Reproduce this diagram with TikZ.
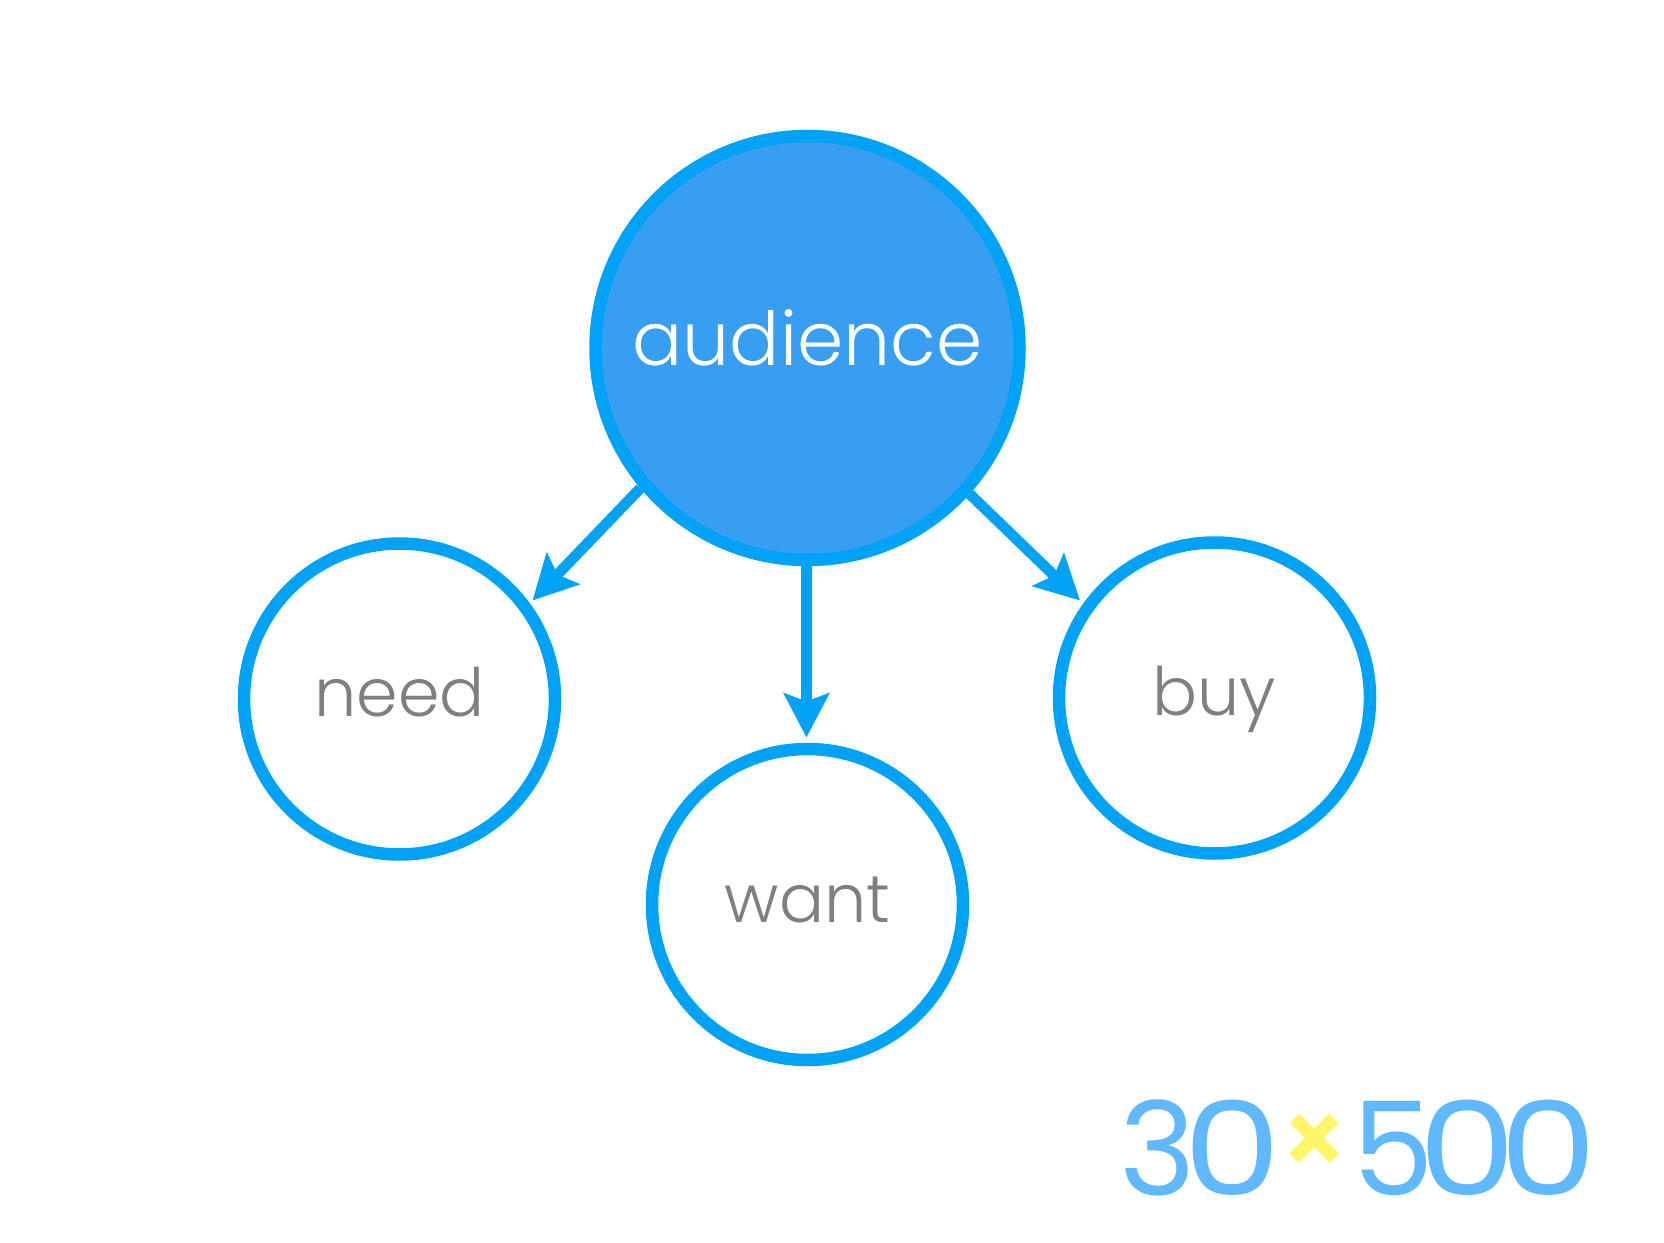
\documentclass[tikz,border=0pt]{standalone}
\usepackage{fontspec}
\setmainfont{Poppins}[UprightFont=* Light]
\newfontfamily\logofont{Poppins}
\newfontfamily\logozero{Poppins}[FakeStretch=1.2]
\newfontfamily\logotimesfont{Poppins}[UprightFont=* SemiBold]
\usetikzlibrary{arrows.meta}
\definecolor{ringblue}{HTML}{00A2F5}
\definecolor{fillblue}{HTML}{389EF2}
\definecolor{labelgray}{HTML}{7F7F7F}
\definecolor{logoblue}{HTML}{60B8FF}
\definecolor{logoyellow}{HTML}{FFF56B}
\tikzstyle{bubble} = [circle, draw=ringblue, line width=0.25cm, inner sep=0pt, minimum size=6.22cm, text=labelgray, font=\fontsize{38}{38}\selectfont, text height=1cm, text depth=0.3cm]
\tikzstyle{link} = [draw=ringblue, line width=0.214cm, -{Stealth[length=0.88cm, width=0.9cm, inset=0.16cm]}]
\tikzstyle{logo} = [inner sep=0pt, anchor=west, text=logoblue, font=\logofont\fontsize{74}{74}\selectfont]

\begin{document}
\begin{tikzpicture}
        \useasboundingbox (0,0) rectangle (33.28,-24.86);
        \node[bubble, fill=fillblue, minimum size=8.48cm, text=white, font=\fontsize{42.3}{42.3}\selectfont] (audience) at (16.15,-6.96) {audience};
        \node[bubble] (need) at (7.99,-13.98) {need};
        \node[bubble] (want) at (16.15,-18.09) {want};
        \node[bubble] (buy) at (24.29,-13.96) {buy};
        \coordinate (needtip) at (10.65,-12.01);
        \coordinate (wanttip) at (16.13,-14.75);
        \coordinate (buytip) at (21.6,-12.01);
        \draw[link] (audience.220.5) -- (needtip);
        \draw[link] (audience.south) ++(-0.02,0.1) -- (wanttip);
        \draw[link] (audience.318.7) -- (buytip);
        \node[logo] (logothirty) at (22.38,-22.95) {3\kern-7pt{\logozero 0}};
        \node[logo, text=logoyellow, anchor=center, font=\logotimesfont\fontsize{60}{60}\selectfont] (logotimes) at (26.3,-22.9) {×};
        \node[logo] (logofivehundred) at (27.05,-22.95) {5\kern-9pt{\logozero 0}\kern-10pt{\logozero 0}};
\end{tikzpicture}
\end{document}
